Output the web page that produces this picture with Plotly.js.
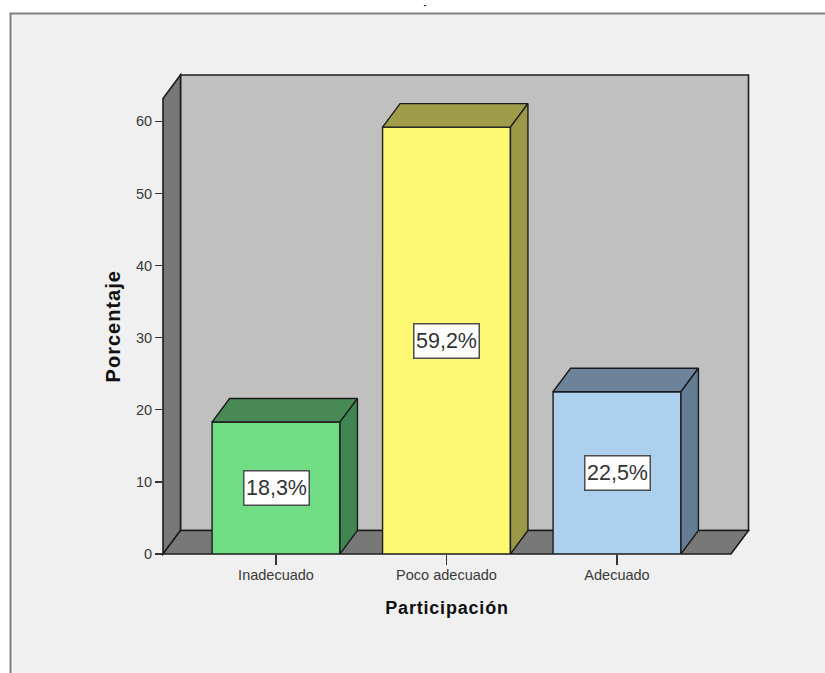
<!DOCTYPE html>
<html>
<head>
<meta charset="utf-8">
<script src="https://cdn.plot.ly/plotly-3.0.1.min.js"></script>
<style>html,body{margin:0;padding:0;background:#fff;overflow:hidden}</style>
</head>
<body>
<div id="chart" style="width:825px;height:673px"></div>
<script>
// Percentage of respondents per participation level
const categories = ['Inadecuado', 'Poco adecuado', 'Adecuado'];
const percentages = [18.3, 59.2, 22.5];
const yTicks = [0, 10, 20, 30, 40, 50, 60];
const frontColors = ['#70dd85', '#fdf972', '#add0ee'];
const topColors = ['#488a56', '#9f9c4a', '#6c8399'];
const sideColors = ['#418552', '#9b9847', '#647d94'];

// Canvas and front-plane geometry of the 3D box, in pixels
const W = 825, H = 673;
const FRONT = {left: 163, right: 731, top: 98.5, bottom: 554};
const DEPTH_PX = {x: 17.5, y: 23.5};
const PX_PER_CAT = 170.5, PX_PER_UNIT = 7.21, FIRST_CAT_PX = 276;
const BAR_WIDTH = 0.75;
const EDGE = '#1c1c1c';

const xRange = [(FRONT.left - FIRST_CAT_PX) / PX_PER_CAT, (FRONT.right - FIRST_CAT_PX) / PX_PER_CAT];
const yRange = [0, (FRONT.bottom - FRONT.top) / PX_PER_UNIT];
const depthX = DEPTH_PX.x / PX_PER_CAT, depthY = DEPTH_PX.y / PX_PER_UNIT;

const px = v => v / W, py = v => 1 - v / H;
const polygon = pts => 'M' + pts.map(p => px(p[0]) + ',' + py(p[1])).join('L') + 'Z';
const xIdx = categories.map((_, i) => i);

// Front faces
const traces = [{
  type: 'bar', x: xIdx, y: percentages, width: BAR_WIDTH, cliponaxis: false,
  marker: {color: frontColors, line: {color: EDGE, width: 1.4}},
  hoverinfo: 'x+y', showlegend: false
}];

// Top and side faces of each bar, offset by the box depth
percentages.forEach((v, i) => {
  const l = i - BAR_WIDTH / 2, r = i + BAR_WIDTH / 2;
  const face = (xs, ys, color) => ({
    type: 'scatter', mode: 'lines', x: xs, y: ys, fill: 'toself', fillcolor: color,
    line: {color: EDGE, width: 1.4}, cliponaxis: false, hoverinfo: 'skip', showlegend: false
  });
  traces.push(face([l, l + depthX, r + depthX, r, l], [v, v + depthY, v + depthY, v, v], topColors[i]));
  traces.push(face([r, r + depthX, r + depthX, r, r], [0, depthY, v + depthY, v, 0], sideColors[i]));
});

// Walls and floor of the box, plus the surrounding panel
const wall = (pts, color) => ({
  type: 'path', xref: 'paper', yref: 'paper', layer: 'below', path: polygon(pts),
  fillcolor: color, line: {color: EDGE, width: 1.6}
});
const F = FRONT, D = DEPTH_PX;
const shapes = [
  {type: 'rect', xref: 'paper', yref: 'paper', layer: 'below',
   x0: px(10.5), x1: 1.02, y0: -0.02, y1: py(13.5),
   fillcolor: '#f0f0f0', line: {color: '#808080', width: 2}},
  wall([[F.left + D.x, F.top - D.y], [F.right + D.x, F.top - D.y], [F.right + D.x, F.bottom - D.y], [F.left + D.x, F.bottom - D.y]], '#c0c0c0'),
  wall([[F.left, F.top], [F.left + D.x, F.top - D.y], [F.left + D.x, F.bottom - D.y], [F.left, F.bottom]], '#787878'),
  wall([[F.left, F.bottom], [F.left + D.x, F.bottom - D.y], [F.right + D.x, F.bottom - D.y], [F.right, F.bottom]], '#787878')
];

// Value boxes centred on each bar
const annotations = percentages.map((v, i) => ({
  x: i, y: v / 2, xref: 'x', yref: 'y', showarrow: false,
  text: v.toFixed(1).replace('.', ',') + '%',
  font: {family: 'Liberation Sans, Arial, sans-serif', size: 21.5, color: '#333333'},
  bgcolor: '#ffffff', bordercolor: '#4d4d4d', borderwidth: 1.5, borderpad: 1,
  width: 62, height: 31
}));

const axisFont = {family: 'Liberation Sans, Arial, sans-serif', size: 14.5, color: '#3a3a3a'};
const xTitleFont = {family: 'Liberation Sans, Arial, sans-serif', size: 18, color: '#111111', weight: 'bold'};
const yTitleFont = {family: 'Liberation Sans, Arial, sans-serif', size: 20, color: '#111111', weight: 'bold'};

const layout = {
  width: W, height: H, margin: {l: 0, r: 0, t: 0, b: 0},
  paper_bgcolor: '#ffffff', plot_bgcolor: 'rgba(0,0,0,0)',
  showlegend: false, shapes, annotations,
  title: {text: '-', x: 425 / W, xanchor: 'center', y: 1 - 5 / H, yanchor: 'middle',
          font: {family: 'Liberation Sans, Arial, sans-serif', size: 9, color: '#222', weight: 'bold'}},
  xaxis: {
    domain: [px(F.left), px(F.right)], range: xRange,
    tickmode: 'array', tickvals: xIdx, ticktext: categories,
    ticks: 'outside', ticklen: 10, tickwidth: 1.4, tickcolor: '#333', ticklabelstandoff: -2,
    showgrid: false, zeroline: false, showline: false, tickfont: axisFont,
    title: {text: 'Participación', font: xTitleFont, standoff: 18}
  },
  yaxis: {
    domain: [py(F.bottom), py(F.top)], range: yRange,
    tickmode: 'array', tickvals: yTicks,
    ticks: 'outside', ticklen: 7, tickwidth: 1.4, tickcolor: '#333',
    showgrid: false, zeroline: false, showline: false, tickfont: axisFont,
    title: {text: 'Porcentaje', font: yTitleFont, standoff: 9}
  }
};

Plotly.newPlot('chart', traces, layout, {displayModeBar: false, staticPlot: true}).then(() => {
  document.querySelector('.xtitle').style.letterSpacing = '0.8px';
  document.querySelector('.ytitle').style.letterSpacing = '1px';
});
</script>
</body>
</html>
